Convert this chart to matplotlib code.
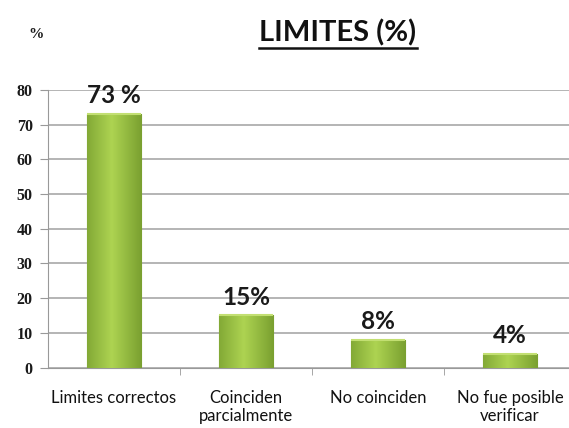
import matplotlib
matplotlib.use("Agg")
import matplotlib.pyplot as plt
import numpy as np
from matplotlib.lines import Line2D

categories = ["Limites correctos", "Coinciden\nparcialmente", "No coinciden", "No fue posible\nverificar"]
values = [73, 15, 8, 4]
value_labels = ["73 %", "15%", "8%", "4%"]
yticks = [0, 10, 20, 30, 40, 50, 60, 70, 80]
title = "LIMITES (%)"

fig = plt.figure(figsize=(5.69, 4.28), dpi=100)
ax = fig.add_axes([48/569, 1-367.5/428, 1-48/569, (367.5-90)/428])

x = np.arange(len(categories))
bars = ax.bar(x, values, width=0.41, color="#8db53b", edgecolor="#6f9229", linewidth=0.8, zorder=3)

# gradient fill on each bar
grad = np.linspace(0, 1, 64)
prof = 1 - np.abs(grad - 0.45) * 1.6
prof = np.clip(prof, 0, 1)
c_dark = np.array([0.45, 0.60, 0.17])
c_light = np.array([0.68, 0.83, 0.32])
img = (c_dark[None, :] + (c_light - c_dark)[None, :] * prof[:, None])[None, :, :]
for b in bars:
    bx, by = b.get_x(), b.get_y()
    w, h = b.get_width(), b.get_height()
    im = ax.imshow(img, extent=[bx, bx + w, by, by + h], aspect="auto", zorder=3.5, interpolation="bilinear")
    im.set_clip_path(b)
    ax.plot([bx, bx + w], [by + h, by + h], color="#c2df72", lw=1.5, zorder=4, solid_capstyle="butt")

for xi, v, lab in zip(x, values, value_labels):
    ax.annotate(lab, (xi, v), xytext=(0, 5), textcoords="offset points", ha="center", va="bottom",
                fontsize=17.5, fontweight="bold", family="Lato", color="#1a1a1a")

ax.set_xlim(-0.5, (569 - 48) / 132 - 0.5)
ax.set_ylim(0, 80)
ax.set_yticks(yticks)
ax.set_yticklabels([str(t) for t in yticks], family="Liberation Serif", fontweight="bold", fontsize=11.5, color="#1a1a1a")
ax.yaxis.grid(True, color="#a8a8a8", lw=1.2, zorder=0)
ax.set_axisbelow(True)

ax.set_xticks(x)
ax.set_xticklabels(categories, family="Lato", fontsize=12, color="#111111", linespacing=1.2)
ax.set_xticks([0.5, 1.5, 2.5], minor=True)
ax.tick_params(axis="x", which="major", length=0, pad=16)
ax.tick_params(axis="x", which="minor", length=5, direction="out", color="#999999")
ax.tick_params(axis="y", length=6, direction="out", color="#999999", pad=5)

for s in ["top", "right"]:
    ax.spines[s].set_visible(False)
ax.spines["left"].set_color("#999999")
ax.spines["bottom"].set_color("#999999")

t = fig.text(338/569, 1-33/428, title, ha="center", va="center", fontsize=21, fontweight="bold", family="Lato", color="#111111")
fig.text(36/569, 1-34/428, "%", ha="center", va="center", fontsize=11, fontweight="bold", family="Liberation Serif", color="#1a1a1a")

fig.canvas.draw()
bb = t.get_window_extent()
y0 = bb.y0 - 1
fig.add_artist(Line2D([bb.x0/569/1, bb.x1/569], [y0/428, y0/428], transform=fig.transFigure, color="#111111", lw=1.8))

fig.savefig("out.png", dpi=100)
